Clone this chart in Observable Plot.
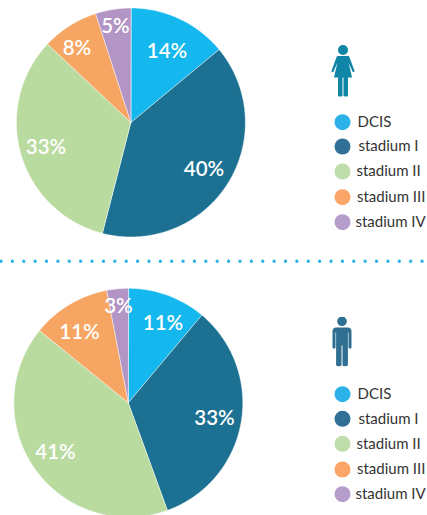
<!DOCTYPE html>
<html>
<head>
<meta charset="utf-8">
<script src="https://cdn.jsdelivr.net/npm/d3@7"></script>
<script src="https://cdn.jsdelivr.net/npm/@observablehq/plot@0.6"></script>
<style>
html,body{margin:0;padding:0;background:#fff;overflow:hidden}
svg{display:block}
</style>
</head>
<body>
<div id="chart"></div>
<script>
const stages = ["DCIS", "stadium I", "stadium II", "stadium III", "stadium IV"];
const womenPct = [14, 40, 33, 8, 5];
const menPct = [11, 33, 41, 11, 3];
const sliceColors = ["#14b8ee", "#1c7092", "#b9dba0", "#f6a662", "#b295c5"];
const legendColors = ["#2cb1e8", "#306f96", "#bfddaa", "#fba568", "#b59ccb"];

// layout
const W = 427, H = 515;
const pies = [
  {name: "women", values: womenPct, cx: 130.4, cy: 122, r: 114.5,
   labels: [[166.5, 51], [203.5, 168.5], [45.5, 147], [76.5, 47.5], [115, 26]]},
  {name: "men", values: menPct, cx: 127.8, cy: 402.3, r: 114.5,
   labels: [[162.5, 323], [214, 418], [55, 452], [79, 332], [118, 305.5]]}
];
const legendY = [[121.7, 146, 171, 196.7, 221.7], [393.7, 418.3, 443.3, 469, 493.7]];
const legendTextX = [357, 358, 356, 356.5, 355];

const slices = [], labels = [], legendDots = [], legendText = [];
pies.forEach((p, k) => {
  const arcs = d3.pie().sort(null)(p.values);
  arcs.forEach((a, i) => {
    const pts = [{x: p.cx, y: p.cy}];
    const n = Math.ceil((a.endAngle - a.startAngle) / 0.01);
    for (let j = 0; j <= n; j++) {
      const t = a.startAngle + (a.endAngle - a.startAngle) * j / n;
      pts.push({x: p.cx + p.r * Math.sin(t), y: p.cy - p.r * Math.cos(t)});
    }
    pts.forEach(q => slices.push({...q, key: p.name + i, color: sliceColors[i]}));
    labels.push({x: p.labels[i][0], y: p.labels[i][1], text: p.values[i] + "%"});
    legendDots.push({x: 342, y: legendY[k][i], color: legendColors[i]});
    legendText.push({x: legendTextX[i], y: legendY[k][i], text: stages[i]});
  });
});

const svgUri = s => "data:image/svg+xml," + encodeURIComponent(s);
const womanIcon = svgUri(`<svg xmlns="http://www.w3.org/2000/svg" viewBox="0 0 24 52"><g fill="#0f86a6"><circle cx="12" cy="5" r="5"/><path d="M7.500 11h9c1 0 1.800.5 2.100 1.400l4.900 13.300c.4 1.100-1.500 1.900-2 .8l-3.800-8.500 3.300 14.500H3l3.300-14.500-3.800 8.500c-.5 1.100-2.400.3-2-.8l4.900-13.300c.3-.9 1.100-1.400 2.100-1.400z"/><rect x="7" y="31" width="4.500" height="20.500" rx="1.300"/><rect x="12.500" y="31" width="4.500" height="20.500" rx="1.300"/></g></svg>`);
const manIcon = svgUri(`<svg xmlns="http://www.w3.org/2000/svg" viewBox="0 0 20 50"><g fill="#2f6f91"><circle cx="10" cy="4.800" r="4.800"/><path d="M4 11h12c2 0 3.500 1.500 3.500 3.500V31c0 1.500-3 1.500-3 0V16h-.6v32.300c0 2.300-5.400 2.300-5.400 0V29h-1v19.300c0 2.300-5.400 2.300-5.400 0V16h-.6v15c0 1.500-3 1.500-3 0V14.500C.5 12.500 2 11 4 11z"/></g></svg>`);
const icons = [
  {x: 342.5, y: 70.5, src: womanIcon, w: 24, h: 52},
  {x: 341.5, y: 341, src: manIcon, w: 20, h: 50}
];
const divider = [{x1: 1, x2: 427, y: 260.7}];

const plot = Plot.plot({
  width: W, height: H,
  margin: 0,
  style: {background: "#fff", fontFamily: "Lato, sans-serif"},
  x: {domain: [0, W], range: [0, W], axis: null},
  y: {domain: [0, H], range: [0, H], axis: null},
  marks: [
    Plot.line(slices, {x: "x", y: "y", z: "key", fill: "color", stroke: "#ffffff", strokeWidth: 0.5, curve: "linear-closed"}),
    Plot.text(labels, {x: "x", y: "y", text: "text", fill: "#fff", fontSize: 20.5, fontWeight: 600, textAnchor: "middle", lineAnchor: "middle"}),
    Plot.ruleY(divider, {x1: "x1", x2: "x2", y: "y", stroke: "#2cb1e8", strokeWidth: 3.4, strokeLinecap: "round", strokeDasharray: "0 11.38"}),
    Plot.image(icons, {x: "x", y: "y", src: "src", width: "w", height: "h"}),
    Plot.dot(legendDots, {x: "x", y: "y", r: 8, fill: "color", stroke: null}),
    Plot.text(legendText, {x: "x", y: "y", text: "text", fill: "#333", fontSize: 15, textAnchor: "start", lineAnchor: "middle"})
  ]
});
document.getElementById("chart").append(plot);
</script>
</body>
</html>
